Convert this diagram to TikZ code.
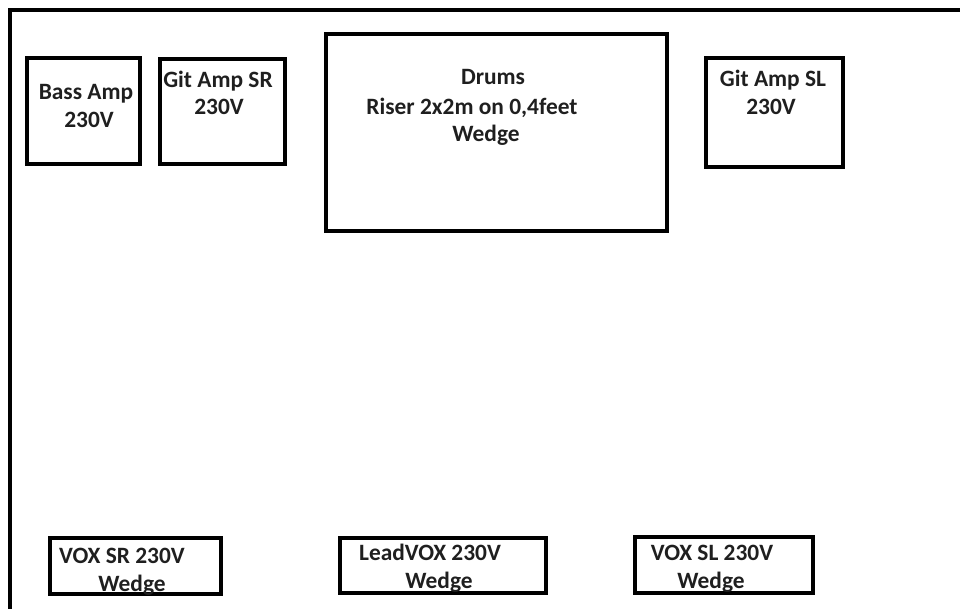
\documentclass[tikz,border=0pt]{standalone}
\usepackage{fontspec}
\setmainfont{Carlito}
\begin{document}
\begin{tikzpicture}[x=1pt,y=-1pt,
  box/.style={draw=black, line width=3.3pt, inner sep=0pt, outer sep=0pt},
  lbl/.style={font=\bfseries\fontsize{23.4}{28}\selectfont, anchor=base, inner sep=0pt, text=black!88},
  frame/.style={line width=3.3pt, draw=black}]
\useasboundingbox (0,0) rectangle (960,609);
% stage frame (left and top edges)
\coordinate (fbl) at (10,609);
\coordinate (ftl) at (10,10);
\coordinate (ftr) at (960,10);
\draw[frame] (fbl) -- (ftl) -- (ftr);
% boxes
\node[box, minimum width=113, minimum height=106] (bass)  at (83.5,111) {};
\node[box, minimum width=125, minimum height=105] (gitsr) at (222.5,111.5) {};
\node[box, minimum width=341, minimum height=197] (drums) at (496.5,132.5) {};
\node[box, minimum width=137, minimum height=109] (gitsl) at (774.5,112.5) {};
\node[box, minimum width=171, minimum height=56]  (voxsr) at (135.5,566) {};
\node[box, minimum width=206, minimum height=55]  (lead)  at (443,565.5) {};
\node[box, minimum width=178, minimum height=56]  (voxsl) at (724,565) {};
% labels
\node[lbl] (bass1) at (86,100) {Bass Amp};
\node[lbl] (bass2) at (89,128) {230V};
\node[lbl] (gitsr1) at (218,88) {Git Amp SR};
\node[lbl] (gitsr2) at (219,115) {230V};
\node[lbl] (drums1) at (493,85) {Drums};
\node[lbl] (drums2) at (472,115) {Riser 2x2m on 0,4feet};
\node[lbl] (drums3) at (486,142) {Wedge};
\node[lbl] (gitsl1) at (773,87) {Git Amp SL};
\node[lbl] (gitsl2) at (771,115) {230V};
\node[lbl] (voxsr1) at (122,563) {VOX SR 230V};
\node[lbl] (voxsr2) at (132,591) {Wedge};
\node[lbl] (lead1) at (430,560) {LeadVOX 230V};
\node[lbl] (lead2) at (439,588) {Wedge};
\node[lbl] (voxsl1) at (712,560) {VOX SL 230V};
\node[lbl] (voxsl2) at (711,588) {Wedge};
\end{tikzpicture}
\end{document}
